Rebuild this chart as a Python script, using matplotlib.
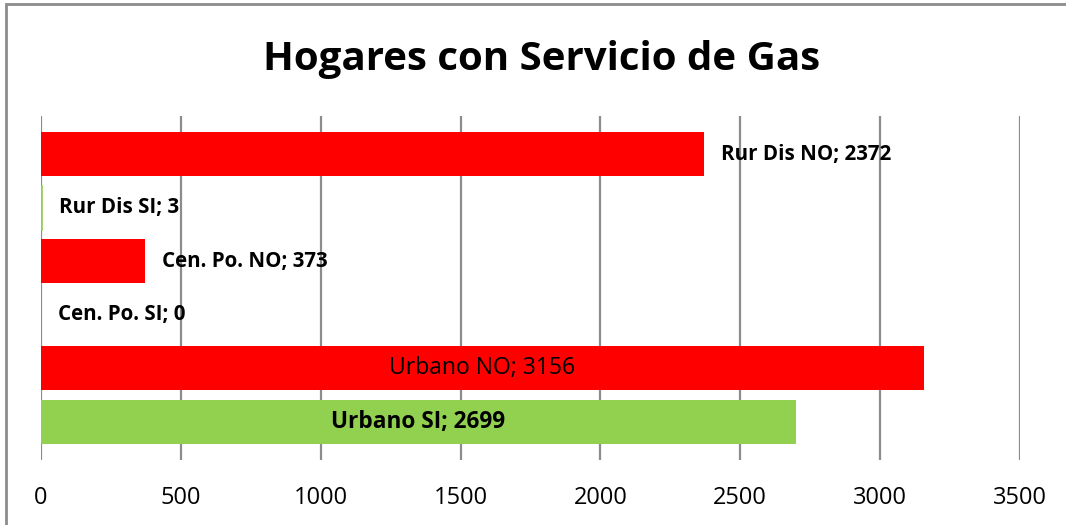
import matplotlib.pyplot as plt
from matplotlib.patches import Rectangle

# data, bottom to top
categories = ['Urbano SI', 'Urbano NO', 'Cen. Po. SI', 'Cen. Po. NO', 'Rur Dis SI', 'Rur Dis NO']
values = [2699, 3156, 0, 373, 3, 2372]
colors = ['#92D050', '#FF0000', '#92D050', '#FF0000', '#92D050', '#FF0000']
xticks = [0, 500, 1000, 1500, 2000, 2500, 3000, 3500]

plt.rcParams['font.family'] = ['Open Sans', 'DejaVu Sans']

fig = plt.figure(figsize=(10.66, 5.25), dpi=100)
ax = fig.add_axes([41 / 1066, 65 / 525, 979 / 1066, 344 / 525])

ypos = list(range(len(categories)))
bars = ax.barh(ypos, values, height=0.82, color=colors, zorder=2)
# tiny bar (3) still shows as a thin line in the original
bars[4].set_edgecolor('#92D050')
bars[4].set_linewidth(1.2)

ax.set_xlim(0, 3500)
ax.set_ylim(-0.71, 5.71)
ax.set_xticks(xticks)
ax.set_xticklabels([str(t) for t in xticks], fontsize=17)
ax.tick_params(axis='x', length=0, pad=19)
ax.set_yticks([])
ax.grid(axis='x', color='#8c8c8c', linewidth=1.6, zorder=1)
for s in ax.spines.values():
    s.set_visible(False)

# data labels
for i, (cat, val) in enumerate(zip(categories, values)):
    text = f'{cat}; {val}'
    if cat == 'Urbano NO':
        ax.text(val / 2, i, text, ha='center', va='center', fontsize=16.5, zorder=3)
    elif cat == 'Urbano SI':
        ax.text(val / 2, i, text, ha='center', va='center', fontsize=16.3,
                fontweight='bold', zorder=3)
    else:
        ax.annotate(text, (val, i), xytext=(12, 0), textcoords='offset points',
                    ha='left', va='center', fontsize=14.8, fontweight='bold', zorder=3)

fig.text(541.5 / 1066, 1 - 70 / 525, 'Hogares con Servicio de Gas', ha='center',
         va='baseline', fontsize=29, fontweight='bold')

# chart border
fig.patches.append(Rectangle((5.5 / 1066, -0.1), 1.2, 1 - 3.5 / 525 + 0.1,
                             transform=fig.transFigure, fill=False,
                             edgecolor='#8c8c8c', linewidth=2))

fig.savefig('out.png', dpi=100)
